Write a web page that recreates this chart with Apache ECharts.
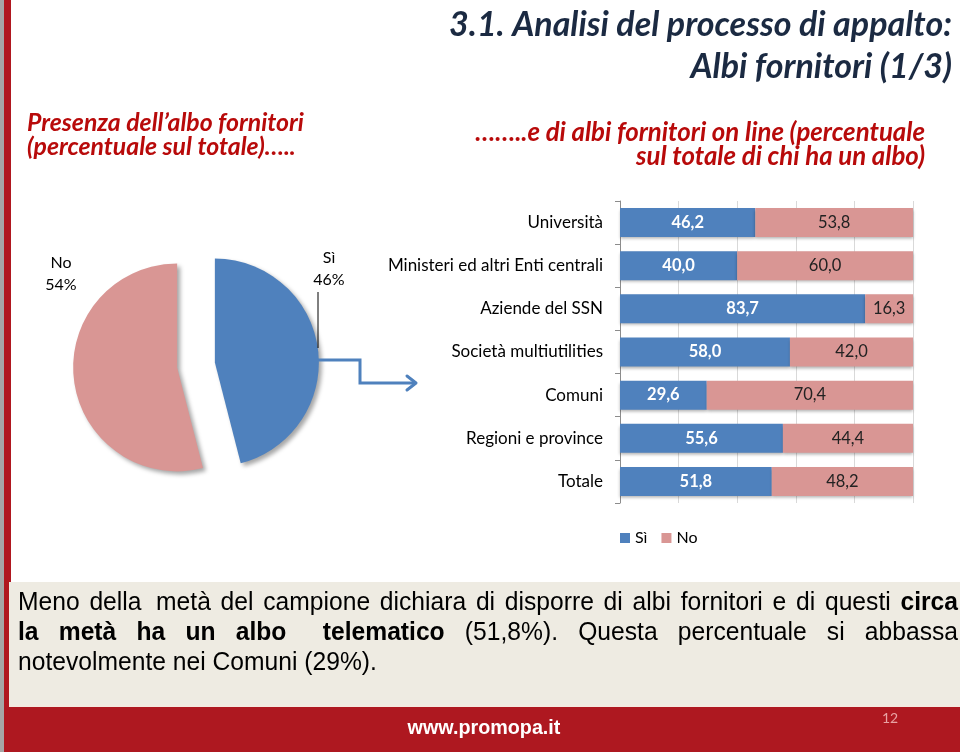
<!DOCTYPE html>
<html>
<head>
<meta charset="utf-8">
<script src="https://cdn.jsdelivr.net/npm/echarts@6/dist/echarts.min.js"></script>
<style>
html,body{margin:0;padding:0;background:#fff;}
#chart{width:960px;height:752px;}
</style>
</head>
<body>
<div id="chart"></div>
<script>
// ---- Data ----
const categories = ['Università', 'Ministeri ed altri Enti centrali', 'Aziende del SSN', 'Società multiutilities', 'Comuni', 'Regioni e province', 'Totale'];
const siValues = [46.2, 40.0, 83.7, 58.0, 29.6, 55.6, 51.8];
const noValues = [53.8, 60.0, 16.3, 42.0, 70.4, 44.4, 48.2];
const pieNames = ['Sì', 'No'];
const pieValues = [46, 54];

const BLUE = '#4f81bd', PINK = '#d99694';
const TITLE = '#1b2a42', RED = '#b80a0a';
const F = 'Lato, "Noto Sans", sans-serif';
const N = '"Liberation Sans", Arial, sans-serif';

const chart = echarts.init(document.getElementById('chart'), null, {renderer: 'canvas'});

const fmt = v => v.toFixed(1).replace('.', ',');

// justify helper (layout only)
const mctx = document.createElement('canvas').getContext('2d');
const SX = 0.93, PFS = 26.5;
function justifyLine(words, y, x0, x1, justify) {
  const out = [];
  const ws = words.map(w => {
    mctx.font = (w[1] ? 'bold ' : '') + PFS + 'px ' + N;
    return mctx.measureText(w[0]).width * SX;
  });
  mctx.font = PFS + 'px ' + N;
  const sp = mctx.measureText(' ').width * SX;
  const weights = words.map((w, i) => (i < words.length - 1 ? (w[2] || 1) : 0));
  const wsum = weights.reduce((a, b) => a + b, 0);
  const total = ws.reduce((a, b) => a + b, 0);
  const unit = justify ? (x1 - x0 - total) / wsum : sp;
  let x = x0;
  words.forEach((w, i) => {
    out.push({type: 'text', x: x, y: y, scaleX: SX, style: {
      text: w[0], font: (w[1] ? 'bold ' : '') + PFS + 'px ' + N, fill: '#000', align: 'left', verticalAlign: 'middle'}});
    x += ws[i] + unit * weights[i];
  });
  return out;
}
const para1 = 'Meno della metà del campione dichiara di disporre di albi fornitori e di questi'.split(' ').map(w => [w, false]).concat([['circa', true]]);
para1[1][2] = 1.5;
const para2 = [['la', true], ['metà', true], ['ha', true], ['un', true], ['albo', true, 1.8], ['telematico', true],
  ['(51,8%).', false], ['Questa', false], ['percentuale', false], ['si', false], ['abbassa', false]];
const para3 = 'notevolmente nei Comuni (29%).'.split(' ').map(w => [w, false]);

const graphics = [
  {type: 'rect', shape: {x: 0, y: 0, width: 4, height: 752}, style: {fill: '#a6a6a6'}, z: 0},
  {type: 'rect', shape: {x: 4, y: 0, width: 7, height: 752}, style: {fill: '#b0171f'}, z: 0},
  {type: 'rect', shape: {x: 9, y: 582, width: 951, height: 125}, style: {fill: '#eeebe2'}, z: 0},
  {type: 'rect', shape: {x: 4, y: 707, width: 956, height: 45}, style: {fill: '#ae1820'}, z: 0},
  {type: 'rect', shape: {x: 9, y: 705, width: 951, height: 2}, style: {fill: '#f3e9e0'}, z: 0},
  // title
  {type: 'text', x: 952, y: 25, style: {text: '3.1. Analisi del processo di appalto:', font: 'italic bold 34px ' + F, fill: TITLE, align: 'right', verticalAlign: 'middle'}},
  {type: 'text', x: 952, y: 67, style: {text: 'Albi fornitori (1/3)', font: 'italic bold 34px ' + F, fill: TITLE, align: 'right', verticalAlign: 'middle'}},
  // subtitles
  {type: 'text', x: 27, y: 123, style: {text: 'Presenza dell’albo fornitori', font: 'italic bold 24.8px ' + F, fill: RED, align: 'left', verticalAlign: 'middle'}},
  {type: 'text', x: 27, y: 147, style: {text: '(percentuale sul totale)…..', font: 'italic bold 24.8px ' + F, fill: RED, align: 'left', verticalAlign: 'middle'}},
  {type: 'text', x: 925, y: 133, style: {text: '……..e di albi fornitori on line (percentuale', font: 'italic bold 25.8px ' + F, fill: RED, align: 'right', verticalAlign: 'middle'}},
  {type: 'text', x: 925, y: 157, style: {text: 'sul totale di chi ha un albo)', font: 'italic bold 25.8px ' + F, fill: RED, align: 'right', verticalAlign: 'middle'}},
  // pie labels
  {type: 'text', x: 61, y: 274, style: {text: pieNames[1] + '\n' + pieValues[1] + '%', font: '16px ' + F, lineHeight: 22, fill: '#000', align: 'center', verticalAlign: 'middle'}},
  {type: 'text', x: 329, y: 269, style: {text: pieNames[0] + '\n' + pieValues[0] + '%', font: '16px ' + F, lineHeight: 22, fill: '#000', align: 'center', verticalAlign: 'middle'}},
  {type: 'line', shape: {x1: 318, y1: 292, x2: 318, y2: 348}, style: {stroke: '#000', lineWidth: 1}, z: 6},
  // elbow arrow
  {type: 'polyline', shape: {points: [[318, 360], [360, 360], [360, 383], [414, 383]]}, style: {stroke: BLUE, lineWidth: 3, fill: null}, z: 5},
  {type: 'polyline', shape: {points: [[407, 376], [416, 383], [407, 390]]}, style: {stroke: BLUE, lineWidth: 3, fill: null, lineCap: 'round', lineJoin: 'round'}, z: 5},
  // footer
  {type: 'text', x: 484, y: 728, scaleX: 0.94, style: {text: 'www.promopa.it', font: 'bold 21px ' + N, fill: '#fff', align: 'center', verticalAlign: 'middle'}},
  {type: 'text', x: 890, y: 718, style: {text: '12', font: '14px ' + F, fill: '#e8a3a3', align: 'center', verticalAlign: 'middle'}}
].concat(justifyLine(para1, 603, 18, 958, true))
 .concat(justifyLine(para2, 633, 18, 958, true))
 .concat(justifyLine(para3, 663, 18, 958, false));

const option = {
  backgroundColor: '#fff',
  animation: false,
  textStyle: {fontFamily: F},
  color: [BLUE, PINK],
  legend: {
    data: ['Sì', 'No'], left: 615, top: 525, icon: 'rect', itemWidth: 10, itemHeight: 10, itemGap: 14,
    textStyle: {fontSize: 16, color: '#000', fontFamily: F}
  },
  grid: {left: 620, top: 201, width: 293, height: 302, containLabel: false},
  xAxis: {
    type: 'value', min: 0, max: 100, interval: 20,
    axisLabel: {show: false}, axisLine: {show: false}, axisTick: {show: false},
    splitLine: {show: true, lineStyle: {color: '#d9d9d9', width: 1}}
  },
  yAxis: {
    type: 'category', data: categories, inverse: true,
    axisLine: {show: true, lineStyle: {color: '#8c8c8c'}},
    axisTick: {show: true, length: 5, lineStyle: {color: '#8c8c8c'}},
    axisLabel: {fontSize: 17, color: '#000', margin: 17, fontFamily: F}
  },
  series: [
    {
      name: 'Sì', type: 'bar', stack: 'a', data: siValues, barWidth: 29,
      itemStyle: {color: BLUE, shadowColor: 'rgba(0,0,0,0.3)', shadowBlur: 3, shadowOffsetY: 2},
      label: {show: true, position: 'inside', color: '#fff', fontWeight: 'bold', fontSize: 16.5, fontFamily: F, formatter: p => fmt(p.value)}
    },
    {
      name: 'No', type: 'bar', stack: 'a', data: noValues, barWidth: 29,
      itemStyle: {color: PINK, shadowColor: 'rgba(0,0,0,0.3)', shadowBlur: 3, shadowOffsetY: 2},
      label: {show: true, position: 'inside', color: '#222', fontSize: 16.5, fontFamily: F, formatter: p => fmt(p.value)}
    },
    {
      name: 'pie', type: 'pie', center: [196, 365], radius: 104, startAngle: 90, clockwise: true,
      selectedMode: 'multiple', selectedOffset: 19, legendHoverLink: false,
      data: pieNames.map((n, i) => ({
        name: n, value: pieValues[i], selected: true,
        itemStyle: {color: i === 0 ? BLUE : PINK}
      })),
      itemStyle: {shadowColor: 'rgba(0,0,0,0.35)', shadowBlur: 4, shadowOffsetX: 3, shadowOffsetY: 3},
      label: {show: false},
      labelLine: {show: false},
      emphasis: {disabled: true}
    }
  ],
  graphic: graphics
};
chart.setOption(option);
</script>
</body>
</html>
